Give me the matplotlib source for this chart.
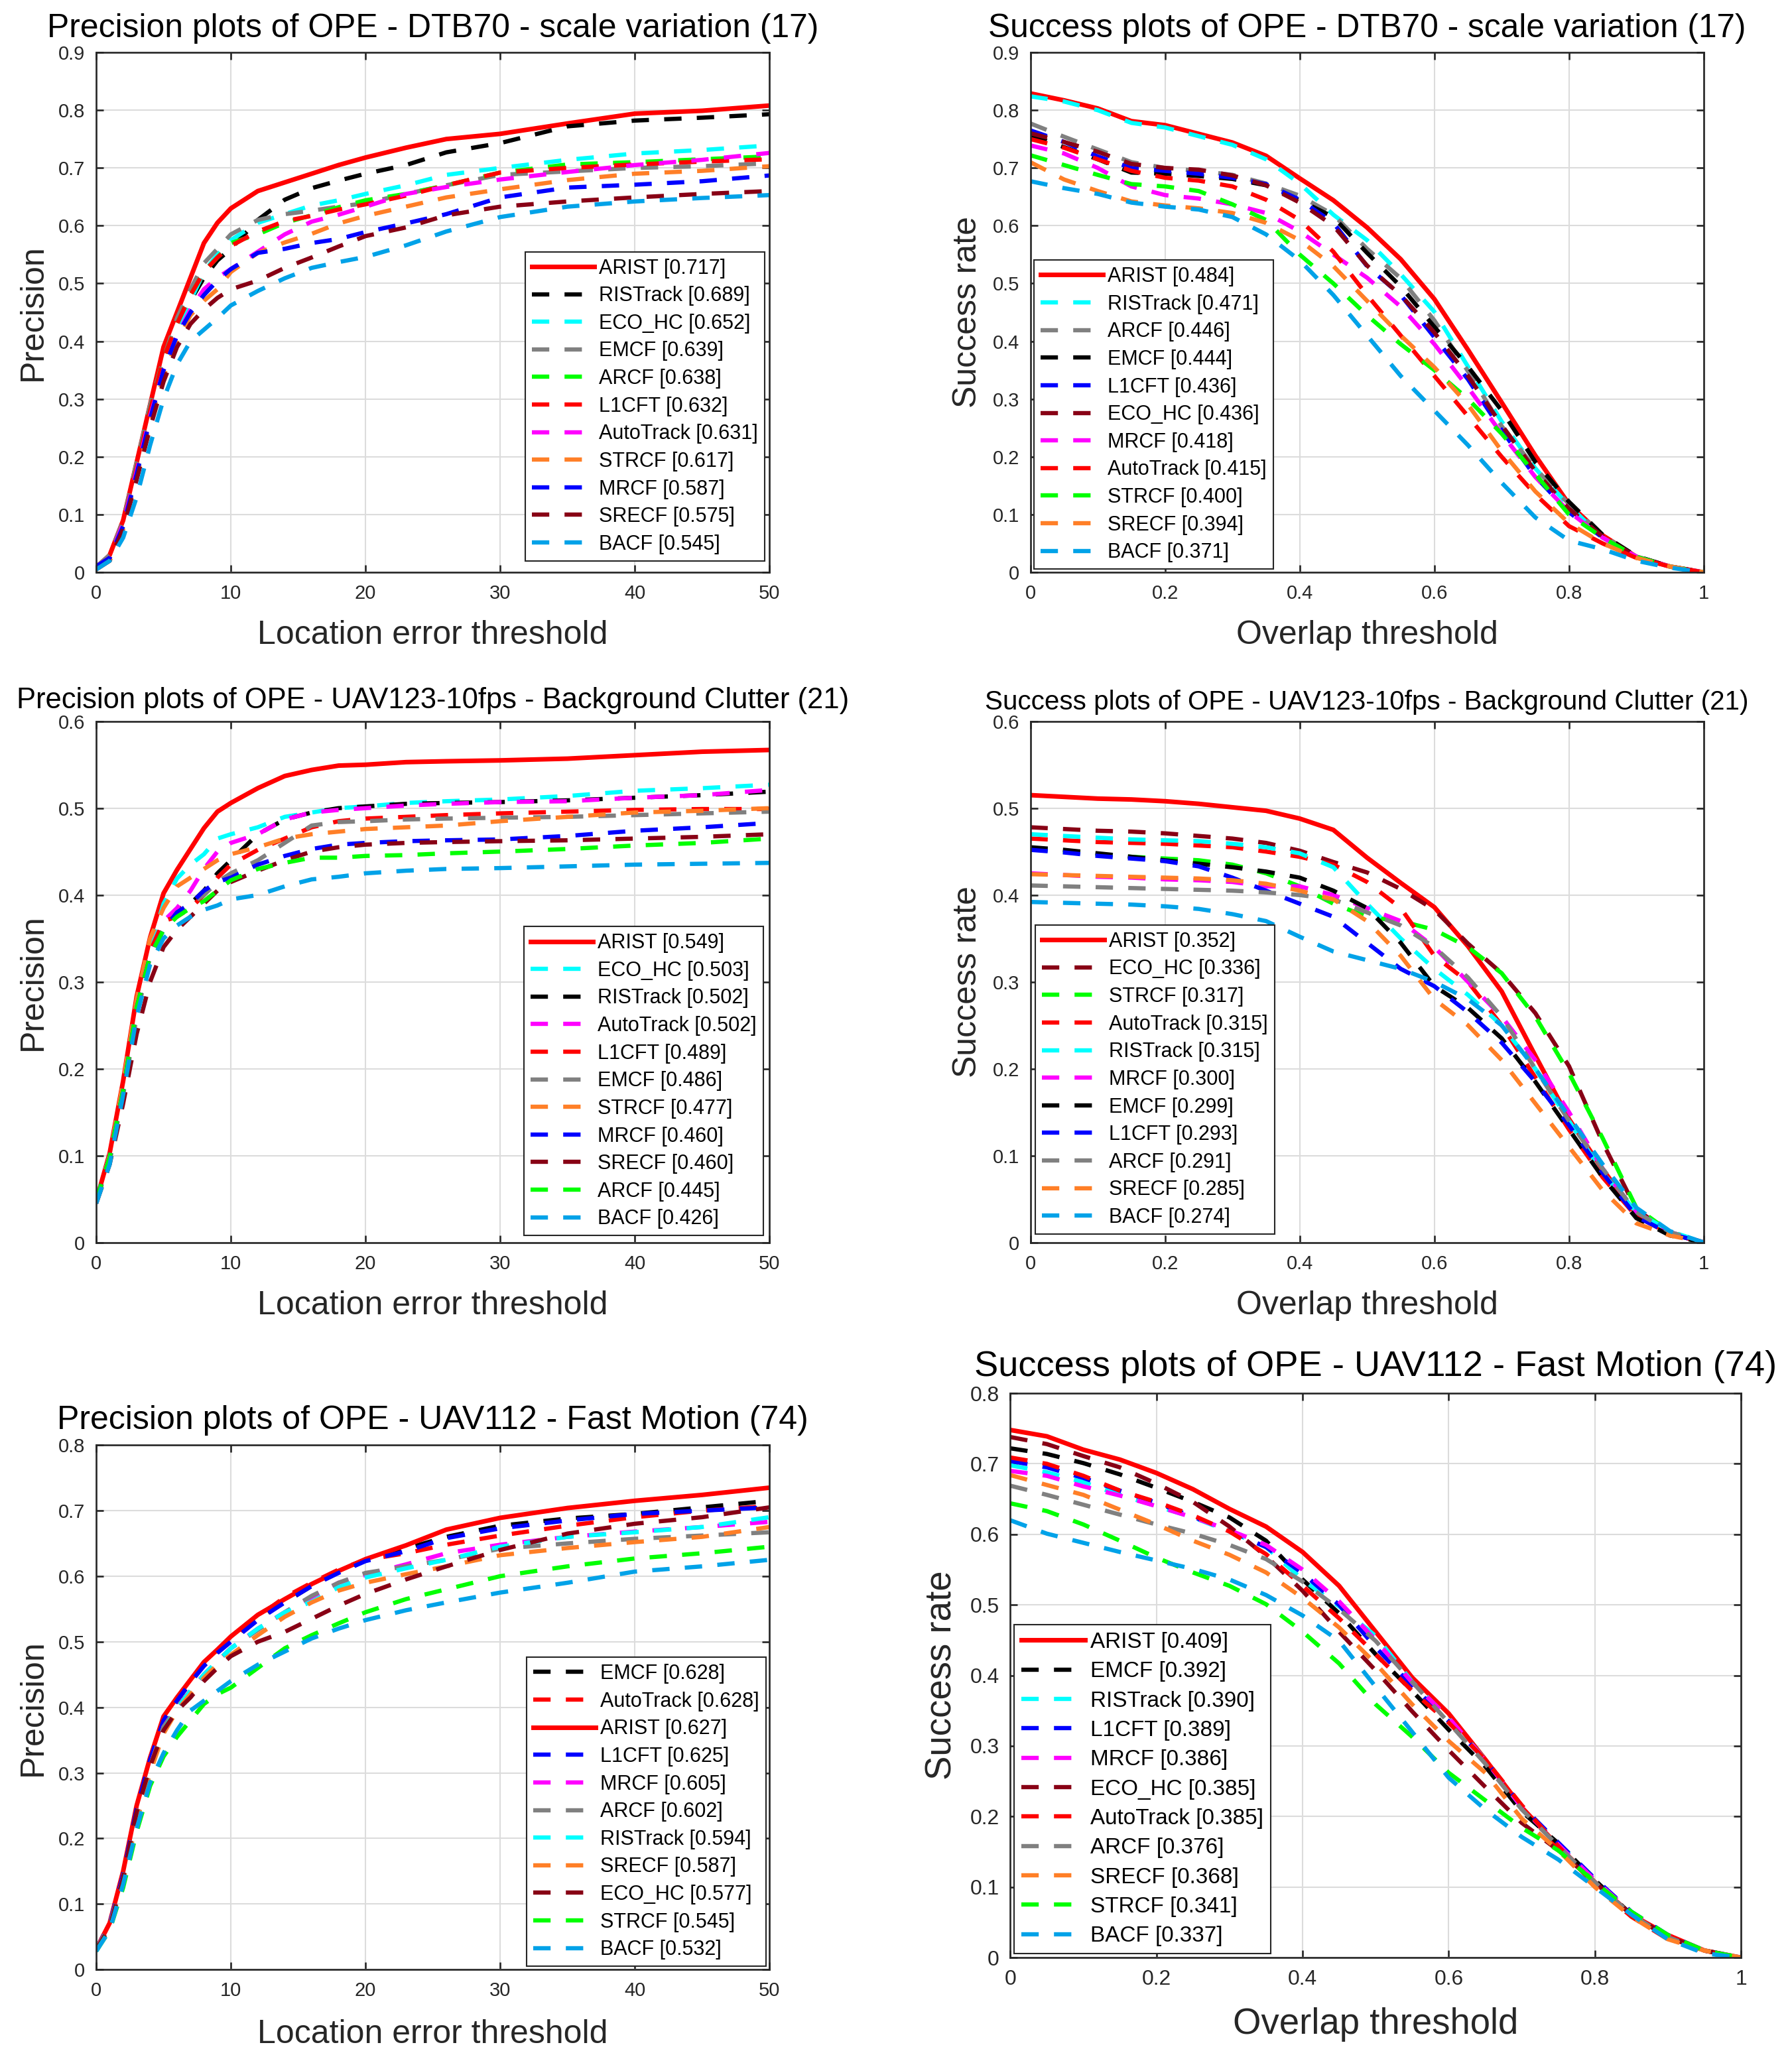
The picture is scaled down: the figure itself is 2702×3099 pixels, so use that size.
import matplotlib
matplotlib.use('Agg')
import matplotlib.pyplot as plt
from matplotlib.ticker import FuncFormatter, MultipleLocator

plt.rcParams['font.family'] = ['Liberation Sans', 'DejaVu Sans']

prec_thr = [0, 1, 2, 3, 4, 5, 6, 7, 8, 9, 10, 12, 14, 16, 18, 20, 23, 26, 30, 35, 40, 45, 50]
succ_thr = [0, 0.05, 0.1, 0.15, 0.2, 0.25, 0.3, 0.35, 0.4, 0.45, 0.5,
            0.55, 0.6, 0.65, 0.7, 0.75, 0.8, 0.85, 0.9, 0.95, 1.0]

# ---- DTB70 - scale variation, precision ----
dtb_prec_names = ['ARIST', 'RISTrack', 'ECO_HC', 'EMCF', 'ARCF', 'L1CFT',
                  'AutoTrack', 'STRCF', 'MRCF', 'SRECF', 'BACF']
dtb_prec_scores = [0.717, 0.689, 0.652, 0.639, 0.638, 0.632, 0.631, 0.617, 0.587, 0.575, 0.545]
dtb_prec_curves = [
    [0.007, 0.03, 0.09, 0.19, 0.29, 0.39, 0.45, 0.51, 0.57, 0.605, 0.63, 0.66, 0.675, 0.69, 0.705, 0.718, 0.735, 0.75, 0.759, 0.777, 0.794, 0.799, 0.808],
    [0.01, 0.025, 0.08, 0.17, 0.27, 0.36, 0.42, 0.47, 0.51, 0.54, 0.56, 0.61, 0.645, 0.665, 0.678, 0.69, 0.705, 0.727, 0.743, 0.772, 0.782, 0.787, 0.793],
    [0.01, 0.025, 0.08, 0.17, 0.27, 0.36, 0.42, 0.47, 0.52, 0.55, 0.575, 0.605, 0.62, 0.635, 0.644, 0.655, 0.67, 0.688, 0.70, 0.714, 0.725, 0.731, 0.739],
    [0.01, 0.03, 0.09, 0.19, 0.29, 0.37, 0.44, 0.49, 0.535, 0.56, 0.585, 0.61, 0.62, 0.626, 0.633, 0.639, 0.655, 0.67, 0.688, 0.694, 0.70, 0.703, 0.708],
    [0.01, 0.025, 0.085, 0.18, 0.28, 0.37, 0.43, 0.48, 0.52, 0.545, 0.57, 0.585, 0.605, 0.618, 0.632, 0.644, 0.655, 0.67, 0.692, 0.706, 0.71, 0.715, 0.72],
    [0.01, 0.025, 0.085, 0.18, 0.28, 0.37, 0.43, 0.48, 0.52, 0.545, 0.565, 0.59, 0.608, 0.617, 0.628, 0.637, 0.652, 0.67, 0.692, 0.70, 0.706, 0.711, 0.715],
    [0.01, 0.025, 0.085, 0.175, 0.27, 0.35, 0.41, 0.455, 0.49, 0.51, 0.525, 0.555, 0.585, 0.607, 0.619, 0.633, 0.655, 0.667, 0.68, 0.693, 0.705, 0.714, 0.726],
    [0.01, 0.02, 0.075, 0.165, 0.26, 0.34, 0.40, 0.445, 0.47, 0.49, 0.52, 0.553, 0.571, 0.586, 0.604, 0.617, 0.633, 0.649, 0.663, 0.679, 0.69, 0.695, 0.703],
    [0.01, 0.025, 0.08, 0.17, 0.265, 0.35, 0.41, 0.45, 0.48, 0.505, 0.525, 0.553, 0.56, 0.57, 0.577, 0.589, 0.604, 0.62, 0.649, 0.666, 0.671, 0.677, 0.687],
    [0.005, 0.02, 0.075, 0.16, 0.25, 0.33, 0.39, 0.43, 0.455, 0.475, 0.49, 0.505, 0.527, 0.545, 0.564, 0.582, 0.597, 0.618, 0.633, 0.642, 0.649, 0.655, 0.66],
    [0.005, 0.02, 0.06, 0.13, 0.22, 0.30, 0.36, 0.40, 0.42, 0.44, 0.462, 0.487, 0.509, 0.527, 0.537, 0.546, 0.566, 0.59, 0.615, 0.633, 0.642, 0.648, 0.653],
]

# ---- DTB70 - scale variation, success ----
dtb_succ_names = ['ARIST', 'RISTrack', 'ARCF', 'EMCF', 'L1CFT', 'ECO_HC',
                  'MRCF', 'AutoTrack', 'STRCF', 'SRECF', 'BACF']
dtb_succ_scores = [0.484, 0.471, 0.446, 0.444, 0.436, 0.436, 0.418, 0.415, 0.400, 0.394, 0.371]
dtb_succ_curves = [
    [0.829, 0.817, 0.803, 0.781, 0.774, 0.759, 0.744, 0.721, 0.682, 0.644, 0.597, 0.542, 0.473, 0.385, 0.294, 0.202, 0.118, 0.064, 0.027, 0.01, 0.0],
    [0.824, 0.815, 0.80, 0.778, 0.77, 0.755, 0.74, 0.715, 0.673, 0.619, 0.575, 0.516, 0.451, 0.356, 0.261, 0.18, 0.115, 0.06, 0.027, 0.01, 0.0],
    [0.777, 0.754, 0.732, 0.71, 0.70, 0.695, 0.688, 0.673, 0.652, 0.619, 0.56, 0.509, 0.436, 0.348, 0.253, 0.18, 0.118, 0.064, 0.027, 0.01, 0.0],
    [0.757, 0.736, 0.715, 0.692, 0.69, 0.686, 0.681, 0.67, 0.644, 0.615, 0.553, 0.495, 0.425, 0.356, 0.28, 0.191, 0.122, 0.065, 0.028, 0.01, 0.0],
    [0.765, 0.745, 0.72, 0.70, 0.695, 0.69, 0.683, 0.672, 0.645, 0.605, 0.53, 0.48, 0.407, 0.334, 0.246, 0.166, 0.104, 0.06, 0.027, 0.01, 0.0],
    [0.76, 0.745, 0.728, 0.707, 0.70, 0.697, 0.687, 0.67, 0.64, 0.60, 0.531, 0.48, 0.415, 0.34, 0.255, 0.175, 0.11, 0.062, 0.027, 0.01, 0.0],
    [0.739, 0.725, 0.70, 0.668, 0.653, 0.647, 0.637, 0.622, 0.59, 0.55, 0.51, 0.46, 0.395, 0.32, 0.24, 0.165, 0.105, 0.06, 0.027, 0.01, 0.0],
    [0.75, 0.735, 0.715, 0.695, 0.683, 0.678, 0.668, 0.645, 0.61, 0.555, 0.48, 0.41, 0.34, 0.27, 0.20, 0.135, 0.08, 0.05, 0.025, 0.01, 0.0],
    [0.722, 0.705, 0.688, 0.672, 0.668, 0.66, 0.637, 0.61, 0.55, 0.50, 0.445, 0.395, 0.35, 0.30, 0.24, 0.17, 0.10, 0.06, 0.027, 0.01, 0.0],
    [0.71, 0.68, 0.66, 0.642, 0.635, 0.63, 0.622, 0.605, 0.575, 0.53, 0.47, 0.41, 0.355, 0.29, 0.21, 0.14, 0.085, 0.05, 0.025, 0.01, 0.0],
    [0.677, 0.665, 0.655, 0.64, 0.633, 0.628, 0.615, 0.585, 0.54, 0.48, 0.41, 0.34, 0.28, 0.22, 0.155, 0.095, 0.055, 0.04, 0.02, 0.008, 0.0],
]

# ---- UAV123-10fps - Background Clutter, precision ----
bc_prec_names = ['ARIST', 'ECO_HC', 'RISTrack', 'AutoTrack', 'L1CFT', 'EMCF',
                 'STRCF', 'MRCF', 'SRECF', 'ARCF', 'BACF']
bc_prec_scores = [0.549, 0.503, 0.502, 0.502, 0.489, 0.486, 0.477, 0.460, 0.460, 0.445, 0.426]
bc_prec_curves = [
    [0.048, 0.103, 0.186, 0.283, 0.351, 0.402, 0.429, 0.453, 0.477, 0.496, 0.506, 0.523, 0.537, 0.544, 0.549, 0.55, 0.553, 0.554, 0.555, 0.557, 0.561, 0.565, 0.567],
    [0.048, 0.10, 0.18, 0.27, 0.34, 0.39, 0.419, 0.435, 0.447, 0.465, 0.47, 0.478, 0.49, 0.495, 0.50, 0.502, 0.506, 0.508, 0.51, 0.514, 0.52, 0.523, 0.527],
    [0.048, 0.095, 0.175, 0.265, 0.33, 0.37, 0.383, 0.39, 0.405, 0.425, 0.44, 0.47, 0.487, 0.495, 0.50, 0.502, 0.505, 0.506, 0.507, 0.509, 0.512, 0.515, 0.519],
    [0.048, 0.098, 0.18, 0.27, 0.335, 0.37, 0.385, 0.405, 0.43, 0.45, 0.46, 0.47, 0.487, 0.495, 0.498, 0.50, 0.503, 0.505, 0.507, 0.508, 0.512, 0.515, 0.521],
    [0.048, 0.098, 0.178, 0.27, 0.335, 0.37, 0.375, 0.385, 0.40, 0.42, 0.435, 0.452, 0.465, 0.478, 0.485, 0.488, 0.49, 0.492, 0.494, 0.496, 0.498, 0.499, 0.499],
    [0.048, 0.095, 0.17, 0.26, 0.33, 0.36, 0.38, 0.39, 0.40, 0.415, 0.425, 0.44, 0.46, 0.48, 0.484, 0.485, 0.487, 0.488, 0.489, 0.49, 0.492, 0.494, 0.496],
    [0.048, 0.10, 0.185, 0.28, 0.35, 0.385, 0.41, 0.42, 0.43, 0.44, 0.447, 0.455, 0.465, 0.47, 0.473, 0.476, 0.478, 0.48, 0.485, 0.49, 0.495, 0.497, 0.50],
    [0.048, 0.098, 0.175, 0.27, 0.33, 0.36, 0.38, 0.39, 0.405, 0.415, 0.42, 0.435, 0.445, 0.453, 0.458, 0.46, 0.462, 0.463, 0.464, 0.468, 0.474, 0.478, 0.483],
    [0.045, 0.09, 0.16, 0.24, 0.30, 0.34, 0.36, 0.375, 0.39, 0.405, 0.415, 0.428, 0.44, 0.45, 0.455, 0.458, 0.46, 0.461, 0.462, 0.463, 0.465, 0.467, 0.47],
    [0.048, 0.098, 0.175, 0.27, 0.33, 0.36, 0.375, 0.385, 0.393, 0.405, 0.417, 0.43, 0.437, 0.443, 0.443, 0.445, 0.446, 0.448, 0.45, 0.453, 0.457, 0.46, 0.465],
    [0.045, 0.09, 0.17, 0.26, 0.32, 0.35, 0.365, 0.375, 0.383, 0.388, 0.395, 0.40, 0.41, 0.418, 0.421, 0.425, 0.428, 0.43, 0.431, 0.433, 0.435, 0.436, 0.437],
]

# ---- UAV123-10fps - Background Clutter, success ----
bc_succ_names = ['ARIST', 'ECO_HC', 'STRCF', 'AutoTrack', 'RISTrack', 'MRCF',
                 'EMCF', 'L1CFT', 'ARCF', 'SRECF', 'BACF']
bc_succ_scores = [0.352, 0.336, 0.317, 0.315, 0.315, 0.300, 0.299, 0.293, 0.291, 0.285, 0.274]
bc_succ_curves = [
    [0.515, 0.513, 0.511, 0.51, 0.508, 0.505, 0.501, 0.497, 0.488, 0.475, 0.443, 0.414, 0.386, 0.341, 0.289, 0.215, 0.142, 0.084, 0.033, 0.011, 0.0],
    [0.478, 0.476, 0.474, 0.473, 0.471, 0.468, 0.465, 0.46, 0.451, 0.438, 0.426, 0.407, 0.383, 0.344, 0.31, 0.264, 0.203, 0.115, 0.038, 0.011, 0.0],
    [0.453, 0.45, 0.447, 0.444, 0.442, 0.44, 0.435, 0.425, 0.41, 0.39, 0.375, 0.37, 0.36, 0.34, 0.31, 0.26, 0.195, 0.12, 0.04, 0.012, 0.0],
    [0.465, 0.463, 0.461, 0.46, 0.459, 0.457, 0.455, 0.45, 0.444, 0.435, 0.415, 0.385, 0.33, 0.30, 0.25, 0.19, 0.13, 0.075, 0.03, 0.01, 0.0],
    [0.47, 0.468, 0.466, 0.464, 0.463, 0.462, 0.459, 0.455, 0.448, 0.432, 0.39, 0.35, 0.315, 0.285, 0.25, 0.20, 0.14, 0.08, 0.035, 0.013, 0.0],
    [0.425, 0.423, 0.421, 0.42, 0.418, 0.417, 0.415, 0.41, 0.41, 0.40, 0.385, 0.37, 0.34, 0.30, 0.26, 0.21, 0.15, 0.085, 0.035, 0.012, 0.0],
    [0.455, 0.452, 0.448, 0.444, 0.44, 0.436, 0.432, 0.427, 0.42, 0.405, 0.385, 0.345, 0.295, 0.27, 0.235, 0.185, 0.13, 0.075, 0.028, 0.008, 0.0],
    [0.452, 0.449, 0.445, 0.442, 0.439, 0.433, 0.42, 0.405, 0.39, 0.375, 0.345, 0.315, 0.295, 0.265, 0.23, 0.185, 0.135, 0.08, 0.03, 0.01, 0.0],
    [0.411, 0.41, 0.409, 0.408, 0.407, 0.406, 0.405, 0.403, 0.40, 0.395, 0.38, 0.365, 0.34, 0.305, 0.26, 0.20, 0.14, 0.085, 0.035, 0.012, 0.0],
    [0.424, 0.423, 0.422, 0.421, 0.42, 0.419, 0.417, 0.413, 0.405, 0.395, 0.37, 0.33, 0.28, 0.25, 0.21, 0.16, 0.11, 0.06, 0.022, 0.008, 0.0],
    [0.392, 0.391, 0.39, 0.389, 0.387, 0.384, 0.378, 0.37, 0.352, 0.335, 0.325, 0.315, 0.30, 0.28, 0.25, 0.20, 0.145, 0.09, 0.04, 0.013, 0.0],
]

# ---- UAV112 - Fast Motion, precision ----
fm_prec_names = ['EMCF', 'AutoTrack', 'ARIST', 'L1CFT', 'MRCF', 'ARCF',
                 'RISTrack', 'SRECF', 'ECO_HC', 'STRCF', 'BACF']
fm_prec_scores = [0.628, 0.628, 0.627, 0.625, 0.605, 0.602, 0.594, 0.587, 0.577, 0.545, 0.532]
fm_prec_curves = [
    [0.03, 0.07, 0.145, 0.245, 0.32, 0.38, 0.41, 0.438, 0.465, 0.485, 0.503, 0.535, 0.56, 0.585, 0.607, 0.625, 0.642, 0.66, 0.677, 0.688, 0.695, 0.705, 0.715],
    [0.03, 0.07, 0.148, 0.248, 0.322, 0.383, 0.413, 0.44, 0.467, 0.487, 0.505, 0.538, 0.568, 0.59, 0.61, 0.625, 0.635, 0.648, 0.662, 0.677, 0.69, 0.70, 0.707],
    [0.031, 0.071, 0.15, 0.25, 0.323, 0.386, 0.415, 0.442, 0.469, 0.488, 0.508, 0.541, 0.565, 0.588, 0.608, 0.626, 0.647, 0.671, 0.689, 0.704, 0.715, 0.724, 0.735],
    [0.03, 0.07, 0.145, 0.245, 0.32, 0.38, 0.41, 0.438, 0.463, 0.483, 0.50, 0.533, 0.56, 0.585, 0.605, 0.623, 0.638, 0.658, 0.673, 0.685, 0.695, 0.70, 0.705],
    [0.03, 0.068, 0.14, 0.235, 0.31, 0.37, 0.40, 0.425, 0.45, 0.47, 0.49, 0.52, 0.545, 0.568, 0.59, 0.602, 0.618, 0.635, 0.648, 0.66, 0.668, 0.675, 0.683],
    [0.03, 0.068, 0.14, 0.235, 0.31, 0.37, 0.40, 0.425, 0.45, 0.47, 0.49, 0.518, 0.545, 0.57, 0.59, 0.605, 0.615, 0.625, 0.642, 0.65, 0.657, 0.662, 0.667],
    [0.03, 0.066, 0.138, 0.23, 0.305, 0.365, 0.398, 0.425, 0.45, 0.47, 0.49, 0.52, 0.545, 0.561, 0.583, 0.598, 0.612, 0.625, 0.645, 0.66, 0.667, 0.675, 0.69],
    [0.03, 0.065, 0.135, 0.225, 0.30, 0.36, 0.395, 0.42, 0.445, 0.465, 0.48, 0.51, 0.538, 0.56, 0.578, 0.59, 0.603, 0.615, 0.632, 0.643, 0.652, 0.66, 0.675],
    [0.03, 0.065, 0.14, 0.24, 0.31, 0.365, 0.395, 0.415, 0.44, 0.46, 0.478, 0.50, 0.515, 0.535, 0.555, 0.573, 0.595, 0.615, 0.64, 0.665, 0.68, 0.69, 0.705],
    [0.028, 0.06, 0.125, 0.21, 0.28, 0.325, 0.355, 0.38, 0.405, 0.42, 0.43, 0.46, 0.49, 0.51, 0.528, 0.545, 0.565, 0.58, 0.60, 0.615, 0.627, 0.635, 0.645],
    [0.028, 0.06, 0.13, 0.215, 0.285, 0.33, 0.365, 0.395, 0.41, 0.425, 0.44, 0.465, 0.485, 0.505, 0.52, 0.533, 0.548, 0.56, 0.575, 0.59, 0.607, 0.615, 0.625],
]

# ---- UAV112 - Fast Motion, success ----
fm_succ_names = ['ARIST', 'EMCF', 'RISTrack', 'L1CFT', 'MRCF', 'ECO_HC',
                 'AutoTrack', 'ARCF', 'SRECF', 'STRCF', 'BACF']
fm_succ_scores = [0.409, 0.392, 0.390, 0.389, 0.386, 0.385, 0.385, 0.376, 0.368, 0.341, 0.337]
fm_succ_curves = [
    [0.748, 0.739, 0.72, 0.706, 0.687, 0.664, 0.636, 0.611, 0.575, 0.527, 0.462, 0.397, 0.346, 0.281, 0.213, 0.158, 0.107, 0.061, 0.032, 0.01, 0.0],
    [0.722, 0.714, 0.701, 0.685, 0.666, 0.646, 0.624, 0.591, 0.536, 0.488, 0.43, 0.378, 0.323, 0.271, 0.207, 0.162, 0.11, 0.061, 0.029, 0.01, 0.0],
    [0.698, 0.688, 0.674, 0.656, 0.64, 0.624, 0.604, 0.582, 0.536, 0.498, 0.456, 0.391, 0.339, 0.281, 0.213, 0.162, 0.11, 0.065, 0.032, 0.01, 0.0],
    [0.704, 0.695, 0.68, 0.662, 0.645, 0.625, 0.605, 0.582, 0.545, 0.50, 0.44, 0.385, 0.335, 0.28, 0.215, 0.163, 0.112, 0.065, 0.032, 0.01, 0.0],
    [0.69, 0.683, 0.668, 0.655, 0.64, 0.624, 0.606, 0.585, 0.55, 0.505, 0.45, 0.39, 0.34, 0.28, 0.213, 0.16, 0.11, 0.064, 0.031, 0.01, 0.0],
    [0.738, 0.728, 0.711, 0.695, 0.672, 0.646, 0.611, 0.569, 0.52, 0.462, 0.407, 0.349, 0.294, 0.242, 0.191, 0.152, 0.107, 0.061, 0.029, 0.01, 0.0],
    [0.709, 0.70, 0.683, 0.662, 0.646, 0.627, 0.604, 0.572, 0.527, 0.481, 0.43, 0.378, 0.333, 0.281, 0.216, 0.158, 0.103, 0.058, 0.026, 0.008, 0.0],
    [0.669, 0.656, 0.642, 0.628, 0.614, 0.601, 0.585, 0.565, 0.533, 0.494, 0.449, 0.391, 0.333, 0.275, 0.21, 0.158, 0.107, 0.061, 0.029, 0.01, 0.0],
    [0.684, 0.67, 0.656, 0.635, 0.614, 0.591, 0.571, 0.546, 0.51, 0.468, 0.417, 0.359, 0.307, 0.262, 0.197, 0.152, 0.10, 0.058, 0.026, 0.01, 0.0],
    [0.644, 0.633, 0.614, 0.591, 0.567, 0.546, 0.527, 0.501, 0.462, 0.417, 0.359, 0.313, 0.262, 0.223, 0.184, 0.152, 0.107, 0.065, 0.032, 0.01, 0.0],
    [0.62, 0.601, 0.588, 0.575, 0.563, 0.551, 0.536, 0.514, 0.485, 0.449, 0.384, 0.32, 0.255, 0.21, 0.171, 0.139, 0.10, 0.061, 0.026, 0.006, 0.0],
]

# OTB-toolkit style colours
palette = {'red': '#ff0000', 'black': '#000000', 'cyan': '#00ffff', 'gray': '#808080',
           'green': '#00ff00', 'magenta': '#ff00ff', 'orange': '#ff7f27', 'blue': '#0000ff',
           'darkred': '#880015', 'lightblue': '#00a2e8'}

panels = [
    dict(rect=[0.0537, 0.7215, 0.3757, 0.2530], thr=prec_thr, xmax=50, ymax=0.9,
         names=dtb_prec_names, scores=dtb_prec_scores, curves=dtb_prec_curves,
         colors=['red', 'black', 'cyan', 'gray', 'green', 'red', 'magenta', 'orange', 'blue', 'darkred', 'lightblue'],
         title='Precision plots of OPE - DTB70 - scale variation (17)', tw=1161, ty=36,
         xlabel='Location error threshold', ylabel='Precision', xly=95,
         loc='lower right', anchor=(0.993, 0.022), big=False),
    dict(rect=[0.5750, 0.7215, 0.3757, 0.2530], thr=succ_thr, xmax=1, ymax=0.9,
         names=dtb_succ_names, scores=dtb_succ_scores, curves=dtb_succ_curves,
         colors=['red', 'cyan', 'gray', 'black', 'blue', 'darkred', 'magenta', 'red', 'green', 'orange', 'lightblue'],
         title='Success plots of OPE - DTB70 - scale variation (17)', tw=1144, ty=36,
         xlabel='Overlap threshold', ylabel='Success rate', xly=95,
         loc='lower left', anchor=(0.005, 0.006), big=False),
    dict(rect=[0.0537, 0.3954, 0.3757, 0.2536], thr=prec_thr, xmax=50, ymax=0.6,
         names=bc_prec_names, scores=bc_prec_scores, curves=bc_prec_curves,
         colors=['red', 'cyan', 'black', 'magenta', 'red', 'gray', 'orange', 'blue', 'darkred', 'green', 'lightblue'],
         title='Precision plots of OPE - UAV123-10fps - Background Clutter (21)', tw=1257, ty=31,
         xlabel='Location error threshold', ylabel='Precision', xly=95,
         loc='lower right', anchor=(0.991, 0.013), big=False),
    dict(rect=[0.5750, 0.3954, 0.3757, 0.2536], thr=succ_thr, xmax=1, ymax=0.6,
         names=bc_succ_names, scores=bc_succ_scores, curves=bc_succ_curves,
         colors=['red', 'darkred', 'green', 'red', 'cyan', 'magenta', 'black', 'blue', 'gray', 'orange', 'lightblue'],
         title='Success plots of OPE - UAV123-10fps - Background Clutter (21)', tw=1153, ty=29,
         xlabel='Overlap threshold', ylabel='Success rate', xly=95,
         loc='lower left', anchor=(0.007, 0.016), big=False),
    dict(rect=[0.0537, 0.0416, 0.3757, 0.2552], thr=prec_thr, xmax=50, ymax=0.8,
         names=fm_prec_names, scores=fm_prec_scores, curves=fm_prec_curves,
         colors=['black', 'red', 'red', 'blue', 'magenta', 'gray', 'cyan', 'orange', 'darkred', 'green', 'lightblue'],
         title='Precision plots of OPE - UAV112 - Fast Motion (74)', tw=1132, ty=37,
         xlabel='Location error threshold', ylabel='Precision', xly=98,
         loc='lower right', anchor=(0.995, 0.006), big=False),
    dict(rect=[0.5638, 0.0474, 0.4077, 0.2746], thr=succ_thr, xmax=1, ymax=0.8,
         names=fm_succ_names, scores=fm_succ_scores, curves=fm_succ_curves,
         colors=['red', 'black', 'cyan', 'blue', 'magenta', 'darkred', 'red', 'gray', 'orange', 'green', 'lightblue'],
         title='Success plots of OPE - UAV112 - Fast Motion (74)', tw=1211, ty=40,
         xlabel='Overlap threshold', ylabel='Success rate', xly=101,
         loc='lower left', anchor=(0.005, 0.007), big=True),
]

fig = plt.figure(figsize=(27.02, 30.99), dpi=100)
axis_col = '#262626'
titles = []

for p in panels:
    ax = fig.add_axes(p['rect'])
    k = 1.09 if p['big'] else 1.0
    for name, score, y, c in zip(p['names'], p['scores'], p['curves'], p['colors']):
        label = '%s [%.3f]' % (name, score)
        if name == 'ARIST':
            ax.plot(p['thr'], y, color=palette[c], lw=5, ls='-', label=label)
        else:
            ax.plot(p['thr'], y, color=palette[c], lw=4.6, ls=(0, (4.1, 3.6)), label=label)

    ax.set_xlim(0, p['xmax'])
    ax.set_ylim(0, p['ymax'])
    ax.xaxis.set_major_locator(MultipleLocator(p['xmax'] / 5))
    ax.yaxis.set_major_locator(MultipleLocator(0.1))
    fmt = FuncFormatter(lambda v, pos: '%g' % round(v, 4))
    ax.xaxis.set_major_formatter(fmt)
    ax.yaxis.set_major_formatter(fmt)
    ax.grid(True, color='#dcdcdc', lw=1.5)
    ax.set_axisbelow(True)
    for s in ax.spines.values():
        s.set_linewidth(1.9)
        s.set_color(axis_col)
    ax.tick_params(direction='in', length=8, width=1.9, top=True, right=True,
                   labelsize=21 * k, colors=axis_col)
    ax.tick_params(axis='x', pad=13)
    ax.tick_params(axis='y', pad=12)

    ax.set_xlabel(p['xlabel'], fontsize=36 * k, color=axis_col, va='center')
    ax.xaxis.set_label_coords(0.5, -p['xly'] / (p['rect'][3] * 3099))
    ax.set_ylabel(p['ylabel'], fontsize=36 * k, color=axis_col, va='center')
    ax.yaxis.set_label_coords(-(95 if not p['big'] else 103) / (p['rect'][2] * 2702), 0.5)

    t = ax.set_title(p['title'], fontsize=36, color='black', va='center', pad=0,
                     y=1 + p['ty'] / (p['rect'][3] * 3099))
    titles.append((t, p['tw']))

    leg = ax.legend(loc=p['loc'], bbox_to_anchor=p['anchor'], fontsize=22 * k,
                    handlelength=2.9 if p['big'] else 3.08, handletextpad=0.23,
                    borderpad=0.33, labelspacing=0.40 if p['big'] else 0.38,
                    borderaxespad=0, fancybox=False, framealpha=1, edgecolor=axis_col)
    leg.get_frame().set_linewidth(1.5)

# scale each title to its measured width in the reference
fig.canvas.draw()
rend = fig.canvas.get_renderer()
for t, target in titles:
    w = t.get_window_extent(rend).width
    t.set_fontsize(t.get_fontsize() * target / w)

fig.savefig('out.png', dpi=100)
